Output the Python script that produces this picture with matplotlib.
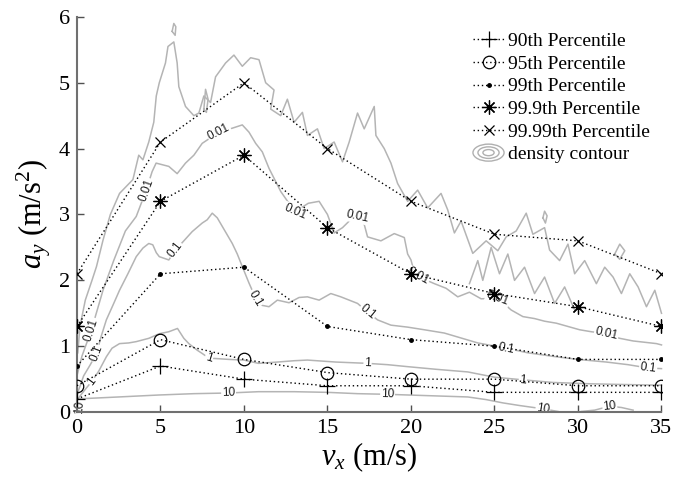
import numpy as np
import matplotlib
matplotlib.use("Agg")
import matplotlib.pyplot as plt
from matplotlib.lines import Line2D
from matplotlib.patches import Ellipse
from matplotlib.legend_handler import HandlerBase

plt.rcParams['font.family'] = ['Liberation Serif', 'DejaVu Serif']
plt.rcParams['mathtext.fontset'] = 'custom'
plt.rcParams['mathtext.rm'] = 'Liberation Serif'
plt.rcParams['mathtext.it'] = 'Liberation Serif:italic'

# percentile curves of lateral acceleration vs speed
vx = [0, 5, 10, 15, 20, 25, 30, 35]
p90 = [0.2, 0.7, 0.5, 0.4, 0.4, 0.3, 0.3, 0.3]
p95 = [0.4, 1.1, 0.8, 0.6, 0.5, 0.5, 0.4, 0.4]
p99 = [0.7, 2.1, 2.2, 1.3, 1.1, 1.0, 0.8, 0.8]
p999 = [1.3, 3.2, 3.9, 2.8, 2.1, 1.8, 1.6, 1.3]
p9999 = [2.1, 4.1, 5.0, 4.0, 3.2, 2.7, 2.6, 2.1]

# density contour lines (x, y)
c001_outer = [(0.05, 0.9), (0.18, 1.3), (0.5, 1.7), (0.9, 2.0), (1.17, 2.21), (1.56, 2.61),
              (2.0, 3.0), (2.55, 3.32), (3.35, 3.53), (3.7, 3.9), (3.95, 3.83), (4.3, 4.1),
              (4.6, 4.4), (4.75, 4.8), (4.93, 5.0), (5.3, 5.3), (5.45, 5.55), (5.8, 5.62),
              (6.0, 5.3), (6.1, 4.94), (6.5, 4.64), (7.0, 4.5), (7.3, 4.54), (7.6, 4.8),
              (8.0, 4.7), (8.3, 5.09), (8.9, 5.3), (9.4, 5.42), (9.9, 5.25), (10.4, 5.38),
              (10.9, 5.35), (11.3, 5.0), (11.8, 4.89), (11.6, 4.6), (12.2, 4.5), (12.6, 4.75),
              (13.0, 4.4), (13.5, 4.55), (13.8, 4.2), (14.4, 4.3), (14.8, 4.0), (15.4, 4.1),
              (15.9, 3.8), (16.3, 4.1), (16.8, 4.54), (17.2, 4.3), (17.8, 4.64), (17.9, 4.2),
              (18.4, 4.0), (18.8, 3.78), (19.2, 3.47), (19.8, 3.2), (20.4, 3.37), (21.0, 3.1),
              (21.8, 3.32), (22.2, 3.07), (22.6, 2.72), (23.0, 2.9), (23.7, 2.41), (24.5, 2.6),
              (25.2, 2.45), (25.7, 2.66), (26.3, 2.75), (26.9, 3.02), (27.3, 2.7), (28.0, 2.8),
              (28.3, 2.46), (28.9, 2.3), (29.4, 2.55), (29.8, 2.1), (30.4, 2.3), (31.1, 1.95),
              (31.6, 2.2), (32.1, 2.05), (32.6, 1.8), (33.1, 2.1), (33.6, 1.9), (34.1, 1.6),
              (34.6, 1.85), (35.0, 1.5)]
c001_inner = [(0.0, 0.55), (0.3, 0.85), (0.87, 1.25), (1.56, 1.85), (2.2, 2.3), (2.9, 2.75),
              (3.55, 2.97), (4.15, 3.37), (4.5, 3.65), (4.74, 3.78), (5.5, 3.73), (6.0, 3.62),
              (6.5, 3.78), (7.0, 3.9), (7.5, 4.08), (8.5, 4.25), (9.3, 4.31), (9.9, 4.36),
              (10.3, 4.25), (10.7, 4.08), (11.1, 3.95), (11.5, 3.7), (12.2, 3.35), (13.05, 3.04),
              (13.85, 3.17), (14.5, 3.2), (15.0, 3.0), (15.4, 2.72), (15.9, 2.8), (16.3, 2.9),
              (16.8, 2.97), (17.2, 2.85), (17.4, 2.66), (18.2, 2.6), (19.0, 2.71), (19.6, 2.65),
              (19.8, 2.4), (20.0, 2.31), (20.2, 2.12), (20.4, 2.06), (21.4, 1.95), (22.1, 1.88),
              (22.8, 1.75), (23.5, 1.82), (24.2, 1.72), (25.2, 1.73), (26.0, 1.55), (26.7, 1.45),
              (27.4, 1.42), (28.0, 1.38), (28.7, 1.35), (29.4, 1.3), (30.1, 1.25), (30.8, 1.22),
              (31.7, 1.19), (32.5, 1.12), (33.3, 1.08), (34.0, 1.06), (34.7, 1.04), (35.0, 1.02)]
c001_mid = [(23.5, 1.95), (24.0, 2.3), (24.3, 2.0), (24.8, 2.5), (25.3, 2.1), (25.8, 2.4),
            (26.2, 2.0), (26.8, 2.2), (27.4, 1.8), (28.0, 2.05), (28.6, 1.65), (29.2, 1.9),
            (29.8, 1.55)]
c01 = [(0.05, 0.3), (0.4, 0.55), (0.8, 0.72), (1.17, 0.89), (1.45, 1.15), (1.76, 1.4),
       (2.15, 1.62), (2.55, 1.85), (3.05, 2.1), (3.55, 2.36), (3.95, 2.49), (4.3, 2.56),
       (4.54, 2.54), (4.75, 2.42), (4.93, 2.36), (5.5, 2.31), (5.9, 2.46), (6.4, 2.6),
       (6.9, 2.74), (7.5, 2.87), (7.8, 2.92), (8.1, 3.02), (8.4, 2.95), (8.7, 2.82),
       (9.3, 2.56), (9.6, 2.4), (9.9, 2.21), (10.3, 1.96), (10.7, 1.73), (11.1, 1.62),
       (11.5, 1.6), (12.0, 1.7), (12.7, 1.66), (13.3, 1.74), (13.8, 1.75), (14.5, 1.7),
       (15.2, 1.8), (15.8, 1.75), (16.3, 1.7), (16.8, 1.65), (17.4, 1.52), (18.0, 1.4),
       (18.8, 1.32), (19.8, 1.29), (20.8, 1.25), (22.0, 1.2), (22.8, 1.14), (24.0, 1.05),
       (25.7, 0.97), (27.0, 0.9), (28.7, 0.84), (30.0, 0.8), (31.7, 0.76), (33.0, 0.72),
       (34.2, 0.67), (35.0, 0.66)]
c1 = [(0.05, 0.2), (0.45, 0.33), (0.9, 0.47), (1.3, 0.62), (1.76, 0.84), (2.1, 0.97),
      (2.55, 1.04), (3.1, 1.05), (3.55, 1.07), (4.3, 1.12), (4.93, 1.19), (5.5, 1.22),
      (6.02, 1.27), (6.4, 1.12), (6.7, 1.04), (7.2, 0.94), (7.5, 0.89), (7.9, 0.82),
      (8.5, 0.81), (9.1, 0.8), (10.0, 0.79), (10.87, 0.74), (12.0, 0.76), (13.0, 0.78),
      (13.8, 0.79), (15.5, 0.76), (17.4, 0.74), (18.6, 0.72), (19.8, 0.69), (21.5, 0.65),
      (23.4, 0.61), (25.0, 0.53), (26.7, 0.49), (28.5, 0.45), (30.7, 0.43), (32.5, 0.42),
      (34.7, 0.41), (35.0, 0.41)]
c10 = [(0.0, 0.2), (2.5, 0.23), (4.93, 0.26), (7.0, 0.28), (9.08, 0.29), (10.87, 0.31),
       (13.0, 0.31), (15.0, 0.3), (16.8, 0.28), (18.6, 0.27), (21.0, 0.25), (23.4, 0.23),
       (24.5, 0.19), (25.5, 0.14), (26.5, 0.1), (27.9, 0.05), (28.8, 0.01)]
c10_b = [(30.2, 0.01), (31.0, 0.03), (31.9, 0.09), (32.6, 0.07), (33.3, 0.03)]
c10_c = [(0.12, 0.0), (0.15, 0.07), (0.16, 0.14)]
islands = [
    [(5.7, 5.78), (5.8, 5.9), (5.92, 5.85), (5.88, 5.72), (5.7, 5.78)],
    [(7.6, 4.6), (7.7, 4.9), (7.85, 4.75), (7.75, 4.55), (7.6, 4.6)],
    [(27.9, 2.95), (28.0, 3.05), (28.15, 2.98), (28.05, 2.87), (27.9, 2.95)],
    [(32.2, 2.4), (32.5, 2.55), (32.8, 2.45), (32.5, 2.32), (32.2, 2.4)],
]

# contour labels: (line, x, y, text)
clabels = [
    (c001_inner, 0.87, 1.25, '0.01'), (c001_inner, 4.15, 3.37, '0.01'),
    (c001_inner, 8.5, 4.25, '0.01'), (c001_inner, 13.05, 3.04, '0.01'),
    (c001_inner, 16.8, 2.97, '0.01'), (c001_inner, 20.4, 2.06, '0.01'),
    (c001_inner, 25.2, 1.73, '0.01'), (c001_inner, 31.7, 1.19, '0.01'),
    (c01, 1.17, 0.89, '0.1'), (c01, 5.9, 2.46, '0.1'), (c01, 10.7, 1.73, '0.1'),
    (c01, 17.4, 1.52, '0.1'), (c01, 25.7, 0.97, '0.1'), (c01, 34.2, 0.67, '0.1'),
    (c1, 0.9, 0.47, '1'), (c1, 7.9, 0.82, '1'), (c1, 17.4, 0.74, '1'), (c1, 26.7, 0.49, '1'),
    (c10, 9.08, 0.29, '10'), (c10, 18.6, 0.27, '10'), (c10, 27.9, 0.05, '10'),
    (c10_b, 31.9, 0.09, '10'), (c10_c, 0.15, 0.07, '10'),
]


class ContourHandler(HandlerBase):
    def create_artists(self, legend, orig_handle, xdescent, ydescent, width, height, fontsize, trans):
        cx = width / 2 - xdescent
        cy = height / 2 - ydescent
        arts = []
        for s in (1.0, 0.68, 0.36):
            arts.append(Ellipse((cx, cy), width * s, height * 1.25 * s, fill=False,
                                ec='#b0b0b0', lw=1.0, transform=trans))
        return arts


fig = plt.figure(figsize=(6.75, 4.82), dpi=100)
ax = fig.add_axes([0.114, 0.145, 0.866, 0.82])
ax.set_xlim(0, 35)
ax.set_ylim(0, 6)

gray = '#b4b4b4'
for line in [c001_outer, c001_inner, c001_mid, c01, c1, c10, c10_b, c10_c] + islands:
    xs, ys = zip(*line)
    ax.plot(xs, ys, color=gray, lw=1.1, zorder=1, clip_on=False)


def label_line(line, lx, ly, txt):
    pts = ax.transData.transform(np.array(line))
    p = ax.transData.transform((lx, ly))
    i = int(np.argmin(np.hypot(pts[:, 0] - p[0], pts[:, 1] - p[1])))
    a = pts[max(i - 1, 0)]
    b = pts[min(i + 1, len(pts) - 1)]
    ang = np.degrees(np.arctan2(b[1] - a[1], b[0] - a[0]))
    if ang > 90:
        ang -= 180
    elif ang < -90:
        ang += 180
    ax.text(lx, ly, txt, rotation=ang, rotation_mode='anchor', ha='center', va='center',
            fontsize=8.5, family='Liberation Sans', color='#1a1a1a', zorder=2,
            bbox=dict(fc='white', ec='none', pad=0.6))


for line, lx, ly, txt in clabels:
    label_line(line, lx, ly, txt)

dot = (0, (1, 2))
ax.plot(vx, p90, color='k', ls=dot, lw=1, marker='+', ms=11, mew=0.9, zorder=3,
        label='90th Percentile')
ax.plot(vx, p95, color='k', ls=dot, lw=1, marker='o', ms=9, mfc='none', mew=0.9, zorder=3,
        label='95th Percentile')
ax.plot(vx, p99, color='k', ls=dot, lw=1, marker='.', ms=5, zorder=3,
        label='99th Percentile')
ax.plot(vx, p999, color='k', ls=dot, lw=1, marker=(8, 2, 0), ms=10, mew=0.9, zorder=3,
        label='99.9th Percentile')
ax.plot(vx, p9999, color='k', ls=dot, lw=1, marker='x', ms=7, mew=0.9, zorder=3,
        label='99.99th Percentile')

handles, labels = ax.get_legend_handles_labels()
handles.append(Line2D([], []))
labels.append('density contour')
ax.legend(handles, labels, handler_map={handles[-1]: ContourHandler()},
          loc='upper right', bbox_to_anchor=(1.0, 0.99), frameon=False, fontsize=14,
          handlelength=1.6, handletextpad=0.2, labelspacing=0.26, borderaxespad=0.2)

ax.set_xticks(vx)
ax.set_yticks(range(7))
for s in ['top', 'right']:
    ax.spines[s].set_visible(False)
for s in ['left', 'bottom']:
    ax.spines[s].set_color('#707070')
    ax.spines[s].set_linewidth(1.5)
ax.tick_params(direction='in', length=5, width=1, color='#505050', labelsize=16, pad=5)
ax.set_xlabel(r'$v_x$ (m/s)', fontsize=22, labelpad=2)
ax.set_ylabel(r'$a_y$ (m/s$^2$)', fontsize=22, labelpad=4)

fig.savefig('out.png', dpi=100)
